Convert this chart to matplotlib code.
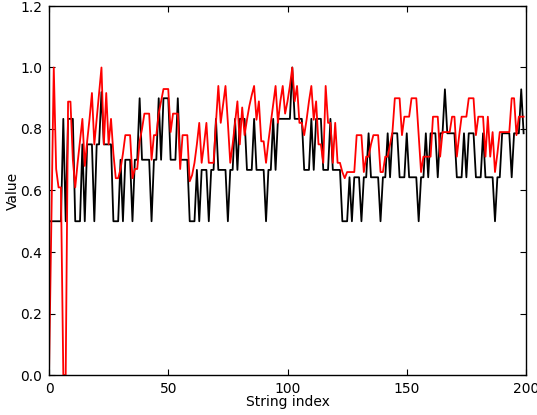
import numpy as np
import matplotlib
matplotlib.use("Agg")
import matplotlib.pyplot as plt

# Per-string scores (black: reference score, red: candidate score)
black_runs = [
    (0.5, 6), (0.833, 1), (0.5, 1), (0.833, 3), (0.5, 3), (0.75, 1), (0.5, 1),
    (0.75, 3), (0.5, 1), (0.75, 2), (0.92, 1), (0.75, 4), (0.5, 3), (0.7, 1),
    (0.5, 1), (0.7, 3), (0.5, 1), (0.7, 2), (0.9, 1), (0.7, 4), (0.5, 1),
    (0.7, 2), (0.9, 1), (0.7, 1), (0.9, 3), (0.7, 3), (0.9, 1), (0.7, 4),
    (0.5, 3), (0.667, 1), (0.5, 1), (0.667, 3), (0.5, 1), (0.667, 2),
    (0.833, 1), (0.667, 4), (0.5, 1), (0.667, 2), (0.833, 1), (0.667, 1),
    (0.833, 3), (0.667, 3), (0.833, 1), (0.667, 4), (0.5, 1), (0.667, 2),
    (0.833, 1), (0.667, 1), (0.833, 6), (1.0, 1), (0.833, 4), (0.667, 3),
    (0.833, 1), (0.667, 1), (0.833, 3), (0.667, 3), (0.833, 1), (0.667, 4),
    (0.5, 3), (0.643, 1), (0.5, 1), (0.643, 3), (0.5, 1), (0.643, 2),
    (0.786, 1), (0.643, 4), (0.5, 1), (0.643, 2), (0.786, 1), (0.643, 1),
    (0.786, 3), (0.643, 3), (0.786, 1), (0.643, 4), (0.5, 1), (0.643, 2),
    (0.786, 1), (0.643, 1), (0.786, 3), (0.643, 1), (0.786, 2), (0.929, 1),
    (0.786, 4), (0.643, 3), (0.786, 1), (0.643, 1), (0.786, 3), (0.643, 3),
    (0.786, 1), (0.643, 4), (0.5, 1), (0.643, 2), (0.786, 4), (0.643, 1),
    (0.786, 3), (0.929, 1), (0.786, 1),
]
black_values = [v for v, n in black_runs for _ in range(n)]

red_values = [
    0.0, 0.5, 1.0, 0.67, 0.61, 0.61, 0.0, 0.0, 0.889, 0.889,
    0.7, 0.61, 0.69, 0.76, 0.833, 0.68, 0.76, 0.833, 0.917, 0.75,
    0.833, 0.917, 1.0, 0.75, 0.917, 0.75, 0.833, 0.72, 0.64, 0.64,
    0.67, 0.72, 0.78, 0.78, 0.78, 0.64, 0.67, 0.67, 0.76, 0.8,
    0.85, 0.85, 0.85, 0.7, 0.78, 0.78, 0.85, 0.89, 0.93, 0.93,
    0.93, 0.79, 0.85, 0.85, 0.85, 0.67, 0.78, 0.78, 0.78, 0.63,
    0.65, 0.69, 0.75, 0.82, 0.69, 0.75, 0.82, 0.69, 0.69, 0.69,
    0.82, 0.94, 0.82, 0.88, 0.94, 0.82, 0.69, 0.75, 0.82, 0.89,
    0.75, 0.87, 0.78, 0.83, 0.875, 0.91, 0.94, 0.83, 0.89, 0.76,
    0.76, 0.69, 0.76, 0.82, 0.88, 0.94, 0.82, 0.89, 0.94, 0.85,
    0.89, 0.94, 1.0, 0.89, 0.94, 0.82, 0.82, 0.78, 0.83, 0.89,
    0.94, 0.83, 0.89, 0.75, 0.75, 0.69, 0.94, 0.82, 0.82, 0.69,
    0.82, 0.69, 0.69, 0.66, 0.64, 0.66, 0.66, 0.66, 0.66, 0.78,
    0.78, 0.78, 0.66, 0.71, 0.71, 0.75, 0.78, 0.78, 0.78, 0.66,
    0.66, 0.71, 0.71, 0.75, 0.79, 0.9, 0.9, 0.9, 0.78, 0.84,
    0.84, 0.84, 0.9, 0.9, 0.9, 0.78, 0.66, 0.71, 0.71, 0.71,
    0.71, 0.84, 0.84, 0.84, 0.71, 0.79, 0.79, 0.79, 0.79, 0.84,
    0.84, 0.71, 0.78, 0.84, 0.84, 0.84, 0.9, 0.9, 0.9, 0.78,
    0.84, 0.84, 0.84, 0.71, 0.84, 0.71, 0.79, 0.66, 0.72, 0.79,
    0.79, 0.79, 0.79, 0.79, 0.9, 0.9, 0.78, 0.84, 0.84, 0.84,
]

x_ticks = [0, 50, 100, 150, 200]
y_ticks = [0.0, 0.2, 0.4, 0.6, 0.8, 1.0, 1.2]

fig = plt.figure(figsize=(5.37, 4.15), dpi=100)
ax = fig.add_axes([49 / 537, 1 - 375 / 415, 477 / 537, 369 / 415])

ax.plot(np.arange(len(black_values)), black_values, color="black", lw=1.3)
ax.plot(np.arange(len(red_values)), red_values, color="red", lw=1.3)

ax.set_xlim(0, 200)
ax.set_ylim(0, 1.2)
ax.set_xticks(x_ticks)
ax.set_yticks(y_ticks)
ax.set_yticklabels([f"{t:.1f}" for t in y_ticks])
ax.tick_params(direction="in", top=True, right=True, length=4, labelsize=10, pad=5)
ax.set_xlabel("String index", fontsize=10, labelpad=-1)
ax.set_ylabel("Value", fontsize=10, labelpad=0)
for s in ax.spines.values():
    s.set_linewidth(1.0)

fig.savefig("out.png", dpi=100, facecolor="white")
